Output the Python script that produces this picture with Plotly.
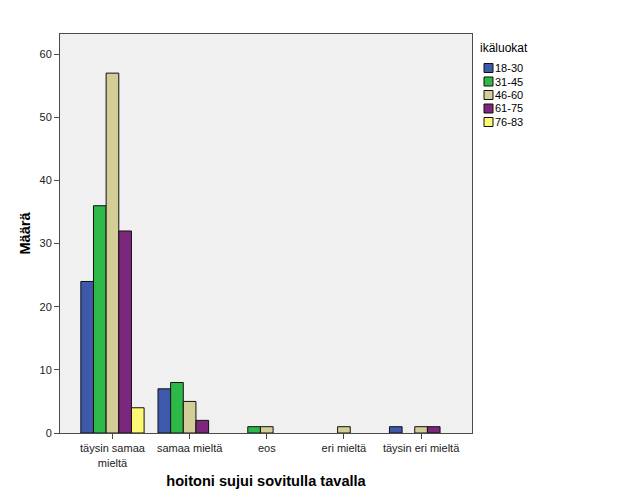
import plotly.graph_objects as go

categories = ["täysin samaa<br>mieltä", "samaa mieltä", "eos", "eri mieltä", "täysin eri mieltä"]
groups = ["18-30", "31-45", "46-60", "61-75", "76-83"]
values = {
    "18-30": [24, 7, 0, 0, 1],
    "31-45": [36, 8, 1, 0, 0],
    "46-60": [57, 5, 1, 1, 1],
    "61-75": [32, 2, 0, 0, 1],
    "76-83": [4, 0, 0, 0, 0],
}
colors = ["#3E58AC", "#2EB848", "#D3CE97", "#7C277D", "#FBF873"]
legend_title = "ikäluokat"

FONT = "Liberation Sans, Arial, sans-serif"

# plot area in pixels (for placing the legend)
W, H = 629, 504
L, R, T, B = 60, 157, 34, 71
PW, PH = W - L - R, H - T - B

def px_x(px):
    return (px - L) / PW

def px_y(py):
    return (H - B - py) / PH

fig = go.Figure()
for g, c in zip(groups, colors):
    fig.add_trace(go.Bar(
        x=list(range(len(categories))),
        y=[v if v != 0 else None for v in values[g]],
        name=g,
        marker=dict(color=c, line=dict(color="#111111", width=1)),
        showlegend=False,
    ))

shapes = []
annotations = [dict(
    x=px_x(478), y=px_y(48), xref="paper", yref="paper",
    xanchor="left", yanchor="middle", showarrow=False,
    text=legend_title, font=dict(size=12, family=FONT, color="#000000"),
)]
for i, (g, c) in enumerate(zip(groups, colors)):
    cy = 68 + 13.5 * i
    shapes.append(dict(
        type="rect", xref="paper", yref="paper",
        x0=px_x(484), x1=px_x(493), y0=px_y(cy + 4.5), y1=px_y(cy - 4.5),
        fillcolor=c, line=dict(color="#111111", width=1),
    ))
    annotations.append(dict(
        x=px_x(493), y=px_y(cy), xref="paper", yref="paper",
        xanchor="left", yanchor="middle", showarrow=False,
        text=g, font=dict(size=11, family=FONT, color="#000000"),
    ))

fig.update_layout(
    width=W, height=H,
    barmode="group", bargap=0.18, bargroupgap=0,
    plot_bgcolor="#F0F0F0", paper_bgcolor="white",
    margin=dict(l=L, r=R, t=T, b=B),
    font=dict(family=FONT, size=11, color="#222222"),
    showlegend=False,
    shapes=shapes,
    annotations=annotations,
)
fig.update_xaxes(
    tickmode="array", tickvals=list(range(len(categories))), ticktext=categories,
    range=[-0.68, 4.66],
    showline=True, linecolor="#4a4a4a", linewidth=1, mirror=True,
    ticks="outside", ticklen=5, tickcolor="#4a4a4a",
    showgrid=False, zeroline=False,
    title=dict(text="<b>hoitoni sujui sovitulla tavalla</b>", font=dict(size=14.6, family=FONT, color="#000000"), standoff=8),
    tickfont=dict(size=11, family=FONT, color="#222222"),
)
fig.update_yaxes(
    range=[0, 63.2], tickvals=[0, 10, 20, 30, 40, 50, 60],
    showline=True, linecolor="#4a4a4a", linewidth=1, mirror=True,
    ticks="outside", ticklen=5, tickcolor="#4a4a4a",
    showgrid=False, zeroline=False,
    title=dict(text="<b>Määrä</b>", font=dict(size=14.6, family=FONT, color="#000000"), standoff=5),
    tickfont=dict(size=11, family=FONT, color="#222222"),
)

fig.write_html("out.html")
